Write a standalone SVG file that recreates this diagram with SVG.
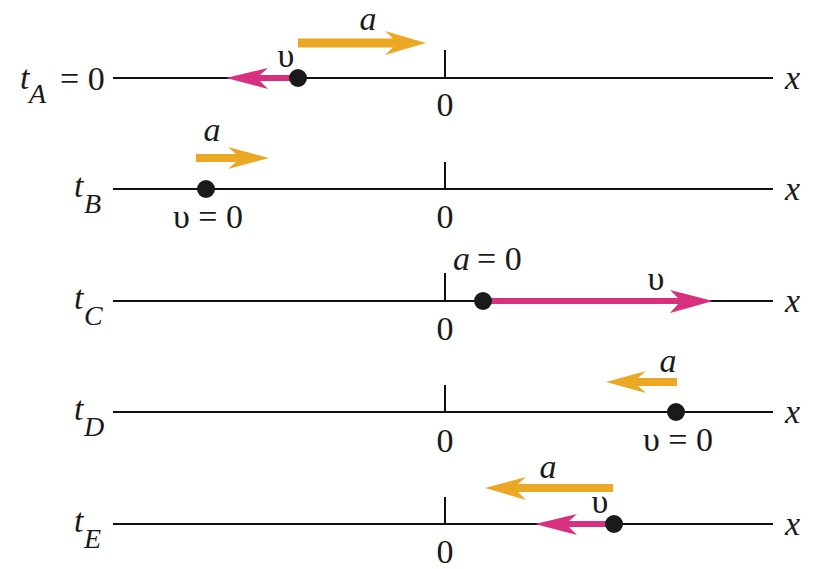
<svg xmlns="http://www.w3.org/2000/svg" width="814" height="569" viewBox="0 0 814 569">
<rect width="814" height="569" fill="#fff"/>
<g id="row-A">
<g stroke="#111" fill="none"><line stroke-width="2.2" x1="113" y1="78" x2="773" y2="78"/><line stroke-width="2" x1="445" y1="50" x2="445" y2="78"/></g>
<path fill="#d6307f" d="M298 75 L260 75 L268 68 L226 78 L268 89 L260 81 L298 81 Z"/>
<circle fill="#1a1a1a" cx="298" cy="78" r="9"/>
<path fill="#eaa825" d="M298 38.5 L393 38.5 L385 31 L426 43 L385 55 L393 47.5 L298 47.5 Z"/>
<text font-family="Times New Roman, Liberation Serif, serif" font-size="34" fill="#1a1a1a" font-style="italic" x="20" y="89">t</text>
<text font-family="Times New Roman, Liberation Serif, serif" font-size="28" fill="#1a1a1a" font-style="italic" x="29" y="103">A</text>
<text font-family="Times New Roman, Liberation Serif, serif" font-size="34" fill="#1a1a1a" x="60" y="90">= 0</text>
<text font-family="Times New Roman, Liberation Serif, serif" font-size="34" fill="#1a1a1a" x="445" y="116" text-anchor="middle">0</text>
<text font-family="Times New Roman, Liberation Serif, serif" font-size="34" fill="#1a1a1a" font-style="italic" x="785" y="89">x</text>
<text font-family="Times New Roman, Liberation Serif, serif" font-size="34" fill="#1a1a1a" x="286" y="67" text-anchor="middle">υ</text>
<text font-family="Times New Roman, Liberation Serif, serif" font-size="34" fill="#1a1a1a" font-style="italic" x="368" y="30" text-anchor="middle">a</text>
</g>
<g id="row-B">
<g stroke="#111" fill="none"><line stroke-width="2.2" x1="113" y1="189" x2="773" y2="189"/><line stroke-width="2" x1="445" y1="162" x2="445" y2="189"/></g>
<path fill="#eaa825" d="M196 154 L236 154 L228 147 L269 158 L228 169 L236 162 L196 162 Z"/>
<circle fill="#1a1a1a" cx="206" cy="189" r="9"/>
<text font-family="Times New Roman, Liberation Serif, serif" font-size="34" fill="#1a1a1a" font-style="italic" x="74" y="197">t</text>
<text font-family="Times New Roman, Liberation Serif, serif" font-size="28" fill="#1a1a1a" font-style="italic" x="84" y="213">B</text>
<text font-family="Times New Roman, Liberation Serif, serif" font-size="34" fill="#1a1a1a" x="445" y="228" text-anchor="middle">0</text>
<text font-family="Times New Roman, Liberation Serif, serif" font-size="34" fill="#1a1a1a" font-style="italic" x="785" y="200">x</text>
<text font-family="Times New Roman, Liberation Serif, serif" font-size="34" fill="#1a1a1a" font-style="italic" x="212" y="141" text-anchor="middle">a</text>
<text font-family="Times New Roman, Liberation Serif, serif" font-size="34" fill="#1a1a1a" x="208" y="228" text-anchor="middle">υ = 0</text>
</g>
<g id="row-C">
<g stroke="#111" fill="none"><line stroke-width="2.2" x1="113" y1="301" x2="773" y2="301"/><line stroke-width="2" x1="445" y1="273" x2="445" y2="301"/></g>
<path fill="#d6307f" d="M483 298 L678 298 L670 290 L713 301 L670 313 L678 304 L483 304 Z"/>
<circle fill="#1a1a1a" cx="483" cy="301" r="9"/>
<text font-family="Times New Roman, Liberation Serif, serif" font-size="34" fill="#1a1a1a" font-style="italic" x="74" y="309">t</text>
<text font-family="Times New Roman, Liberation Serif, serif" font-size="28" fill="#1a1a1a" font-style="italic" x="84" y="325">C</text>
<text font-family="Times New Roman, Liberation Serif, serif" font-size="34" fill="#1a1a1a" x="445" y="340" text-anchor="middle">0</text>
<text font-family="Times New Roman, Liberation Serif, serif" font-size="34" fill="#1a1a1a" font-style="italic" x="785" y="312">x</text>
<text font-family="Times New Roman, Liberation Serif, serif" font-size="34" fill="#1a1a1a" font-style="italic" x="453" y="270">a</text>
<text font-family="Times New Roman, Liberation Serif, serif" font-size="34" fill="#1a1a1a" x="477" y="270">= 0</text>
<text font-family="Times New Roman, Liberation Serif, serif" font-size="34" fill="#1a1a1a" x="656" y="290" text-anchor="middle">υ</text>
</g>
<g id="row-D">
<g stroke="#111" fill="none"><line stroke-width="2.2" x1="113" y1="412" x2="773" y2="412"/><line stroke-width="2" x1="445" y1="385" x2="445" y2="412"/></g>
<path fill="#eaa825" d="M677 378 L638 378 L646 371 L606 382 L646 393 L638 386 L677 386 Z"/>
<circle fill="#1a1a1a" cx="676" cy="412" r="9"/>
<text font-family="Times New Roman, Liberation Serif, serif" font-size="34" fill="#1a1a1a" font-style="italic" x="74" y="420">t</text>
<text font-family="Times New Roman, Liberation Serif, serif" font-size="28" fill="#1a1a1a" font-style="italic" x="84" y="436">D</text>
<text font-family="Times New Roman, Liberation Serif, serif" font-size="34" fill="#1a1a1a" x="445" y="452" text-anchor="middle">0</text>
<text font-family="Times New Roman, Liberation Serif, serif" font-size="34" fill="#1a1a1a" font-style="italic" x="785" y="423">x</text>
<text font-family="Times New Roman, Liberation Serif, serif" font-size="34" fill="#1a1a1a" font-style="italic" x="668" y="372" text-anchor="middle">a</text>
<text font-family="Times New Roman, Liberation Serif, serif" font-size="34" fill="#1a1a1a" x="678" y="451" text-anchor="middle">υ = 0</text>
</g>
<g id="row-E">
<g stroke="#111" fill="none"><line stroke-width="2.2" x1="113" y1="524" x2="773" y2="524"/><line stroke-width="2" x1="445" y1="497" x2="445" y2="524"/></g>
<path fill="#eaa825" d="M613 484 L518 484 L526 477 L485 488 L526 500 L518 492 L613 492 Z"/>
<path fill="#d6307f" d="M614 521 L569 521 L577 514 L535 524 L577 535 L569 527 L614 527 Z"/>
<circle fill="#1a1a1a" cx="614" cy="524" r="9"/>
<text font-family="Times New Roman, Liberation Serif, serif" font-size="34" fill="#1a1a1a" font-style="italic" x="74" y="532">t</text>
<text font-family="Times New Roman, Liberation Serif, serif" font-size="28" fill="#1a1a1a" font-style="italic" x="84" y="548">E</text>
<text font-family="Times New Roman, Liberation Serif, serif" font-size="34" fill="#1a1a1a" x="445" y="563" text-anchor="middle">0</text>
<text font-family="Times New Roman, Liberation Serif, serif" font-size="34" fill="#1a1a1a" font-style="italic" x="785" y="535">x</text>
<text font-family="Times New Roman, Liberation Serif, serif" font-size="34" fill="#1a1a1a" font-style="italic" x="548" y="478" text-anchor="middle">a</text>
<text font-family="Times New Roman, Liberation Serif, serif" font-size="34" fill="#1a1a1a" x="600" y="513" text-anchor="middle">υ</text>
</g>
</svg>
